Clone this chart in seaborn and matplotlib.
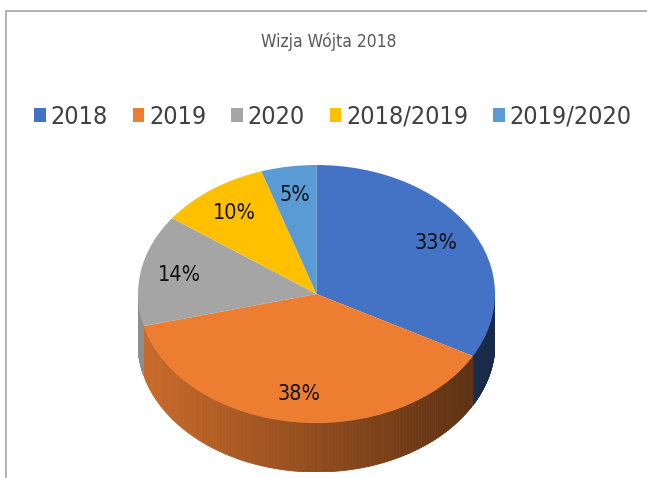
import numpy as np
import matplotlib
matplotlib.use('Agg')
import matplotlib.pyplot as plt
import matplotlib.colors as mcolors
from matplotlib import font_manager
from matplotlib.collections import PolyCollection
from matplotlib.patches import Rectangle
import seaborn as sns

sns.set_theme(style='white')
plt.rcParams['font.family'] = ['DejaVu Sans']

# pick a condensed face if the system has one (the original uses a narrow font)
narrow = None
for fam, st in [('Liberation Sans Narrow', 'normal'), ('DejaVu Sans', 'condensed'),
                ('Roboto Condensed', 'normal'), ('Open Sans', 'condensed')]:
    try:
        f = font_manager.findfont(font_manager.FontProperties(family=fam, stretch=st),
                                  fallback_to_default=False)
        if 'ondensed' in f or 'Narrow' in f:
            narrow = (fam, st)
            break
    except Exception:
        pass
if narrow:
    plt.rcParams['font.family'] = [narrow[0], 'DejaVu Sans']
    plt.rcParams['font.stretch'] = narrow[1]
    legend_size, pct_size, title_size = 18, 15.5, 12.5
else:
    legend_size, pct_size, title_size = 15, 13, 11

# data
title = 'Wizja Wójta 2018'
labels = ['2018', '2019', '2020', '2018/2019', '2019/2020']
shares = [33, 38, 14, 10, 5]
colors = ['#4472C4', '#ED7D31', '#A5A5A5', '#FFC000', '#5B9BD5']

fig = plt.figure(figsize=(6.47, 4.78), dpi=100)
ax = fig.add_axes([138 / 647, 6 / 478, 357 / 647, 307 / 478])

wedges, texts, autotexts = ax.pie(
    shares, colors=colors, startangle=90, counterclock=False,
    autopct='%1.0f%%', pctdistance=0.78,
    wedgeprops=dict(linewidth=0),
    textprops=dict(fontsize=pct_size, color='#111111'),
)
for w in wedges:
    w.set_zorder(2)
for t in autotexts:
    t.set_zorder(3)

# squash the pie into a tilted disc and add the visible rim
depth = 0.38
ax.set_aspect('auto')
ax.set_xlim(-1, 1)
ax.set_ylim(-1 - depth, 1)
ax.axis('off')

bounds = np.cumsum([0] + shares) / sum(shares) * 360  # clockwise from top
polys, fcols = [], []
for i, base in enumerate(colors):
    lo, hi = max(bounds[i], 90), min(bounds[i + 1], 270)
    if hi <= lo:
        continue
    cw = np.linspace(lo, hi, 120)
    t = np.radians(90 - cw)
    x, y = np.cos(t), np.sin(t)
    rgb = np.array(mcolors.to_rgb(base))
    for k in range(len(t) - 1):
        polys.append([(x[k], y[k]), (x[k + 1], y[k + 1]),
                      (x[k + 1], y[k + 1] - depth), (x[k], y[k] - depth)])
        xm = (x[k] + x[k + 1]) / 2
        f = 0.86 - 0.5 * (xm + 1) / 2
        fcols.append(tuple(rgb * f))
ax.add_collection(PolyCollection(polys, facecolors=fcols, edgecolors=fcols,
                                 linewidths=0.6, zorder=1))

fig.text(329 / 647, 1 - 42 / 478, title, ha='center', va='center',
         fontsize=title_size, color='#595959')

fig.legend(wedges, labels, loc='center', bbox_to_anchor=(333 / 647, 1 - 117 / 478),
           ncol=5, frameon=False, fontsize=legend_size, handlelength=0.45, handleheight=0.45,
           handletextpad=0.2, columnspacing=1.0, labelcolor='#404040')

fig.add_artist(Rectangle((5.5 / 647, -0.1), 1.2, 1.1 - 11.5 / 478,
                         transform=fig.transFigure, fill=False,
                         edgecolor='#a6a6a6', linewidth=1.2, clip_on=False))

fig.savefig('out.png', dpi=100)
